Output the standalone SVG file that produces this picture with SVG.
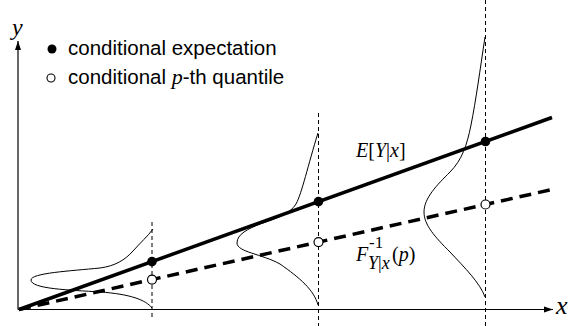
<svg xmlns="http://www.w3.org/2000/svg" width="579" height="326" viewBox="0 0 579 326">
<style>
.ax{stroke:#000;stroke-width:1.2;fill:none}
.vd{stroke:#000;stroke-width:1;stroke-dasharray:4,3;fill:none}
.den{stroke:#000;stroke-width:1;fill:none}
.sans{font-family:"Liberation Sans",Arial,sans-serif;font-size:20.5px;fill:#000}
.math{font-family:"Liberation Serif","Times New Roman",serif;font-style:italic;fill:#000}
.up{font-style:normal}
</style>
<defs>
<marker id="arr" markerWidth="10" markerHeight="8" refX="9" refY="4" orient="auto" markerUnits="userSpaceOnUse">
<path d="M0,1 L9,4 L0,7 Z" fill="#000"/>
</marker>
</defs>
<rect width="579" height="326" fill="#fff"/>
<g id="axes">
<line class="ax" x1="18" y1="309.5" x2="553" y2="309.5" marker-end="url(#arr)"/>
<line class="ax" x1="18" y1="309.5" x2="18" y2="41" marker-end="url(#arr)"/>
<text class="math" x="12" y="35" font-size="24">y</text>
<text class="math" x="556" y="314" font-size="26">x</text>
</g>
<g id="guides">
<line class="vd" x1="152" y1="222" x2="152" y2="318"/>
<line class="vd" x1="318.5" y1="113" x2="318.5" y2="326"/>
<line class="vd" x1="485.5" y1="0" x2="485.5" y2="326"/>
</g>
<g id="densities">
<path class="den" d="M152,308 C146,300 130,294 100,292 C70,290 31,289 31,280 C31,273 70,271 100,268 C115,266 125,260 133,251 C140,243 148,236 153,229"/>
<path class="den" d="M318,305 C314,290 300,278 280,264 C262,254 237,252 237,243 C237,234 248,229 260,224 C275,219 290,214 296,204 C302,193 308,165 318,133"/>
<path class="den" d="M485,297 C480,283 465,268 450,252 C435,237 424,225 424,212 C424,198 437,185 450,172 C462,160 467,145 471,125 C476,100 480,70 485,37"/>
</g>
<g id="connectors">
<line x1="19" y1="309.5" x2="552" y2="117.5" stroke="#000" stroke-width="3.5"/>
<line x1="19" y1="309.5" x2="552" y2="189.5" stroke="#000" stroke-width="3.5" stroke-dasharray="12,7"/>
</g>
<g id="points">
<circle cx="152" cy="261.6" r="4.8" fill="#000"/>
<circle cx="318.5" cy="201.6" r="4.8" fill="#000"/>
<circle cx="485.5" cy="141.5" r="4.8" fill="#000"/>
<circle cx="152" cy="279.6" r="4.5" fill="#fff" stroke="#000" stroke-width="1.2"/>
<circle cx="318.5" cy="242.1" r="4.5" fill="#fff" stroke="#000" stroke-width="1.2"/>
<circle cx="485.5" cy="204.5" r="4.5" fill="#fff" stroke="#000" stroke-width="1.2"/>
</g>
<g id="legend">
<circle cx="52" cy="49" r="4.5" fill="#000"/>
<text class="sans" x="68" y="55">conditional expectation</text>
<circle cx="51" cy="78" r="4" fill="#fff" stroke="#000" stroke-width="1.1"/>
<text class="sans" x="68" y="84">conditional <tspan class="math" font-size="22">p</tspan>-th quantile</text>
</g>
<g id="labels">
<text class="math" x="356" y="157" font-size="20">E<tspan class="up">[</tspan>Y<tspan class="up">|</tspan>x<tspan class="up">]</tspan></text>
<text class="math" x="356" y="261" font-size="20">F</text>
<text class="math" x="369" y="248" font-size="17"><tspan class="up">-1</tspan></text>
<text class="math" x="368" y="269" font-size="18">Y<tspan class="up">|</tspan>x</text>
<text class="math" x="392" y="261" font-size="20"><tspan class="up">(</tspan>p<tspan class="up">)</tspan></text>
</g>
</svg>
